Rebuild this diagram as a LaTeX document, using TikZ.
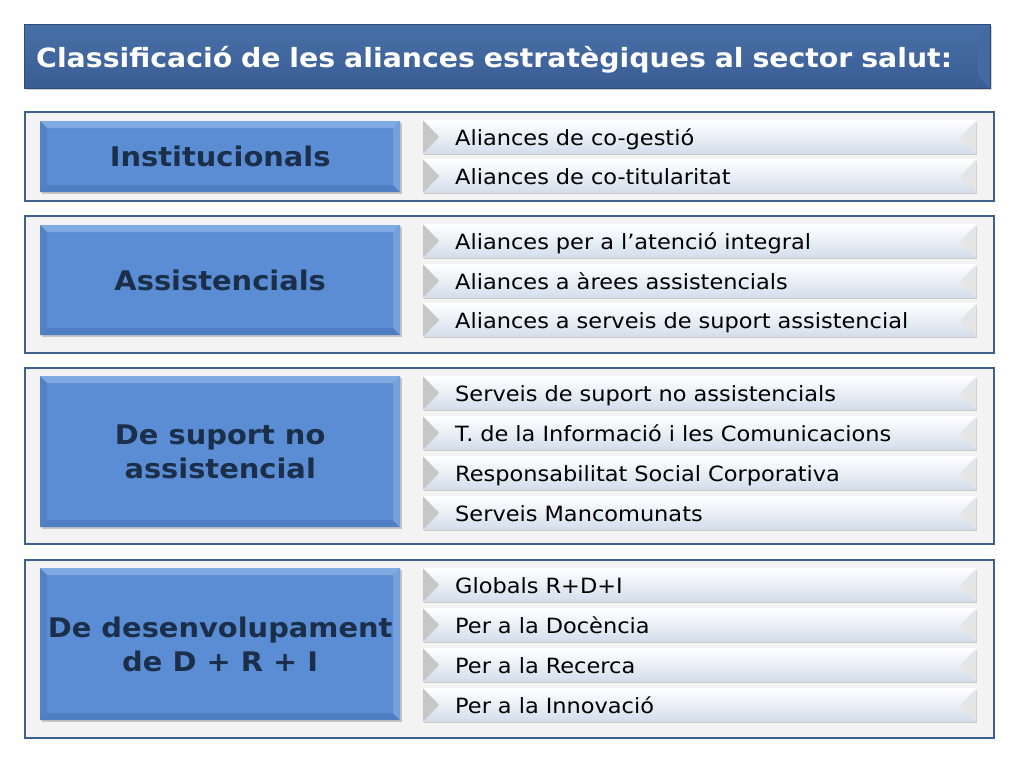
\documentclass[tikz,border=0pt]{standalone}
\usepackage{fontspec}
\setmainfont[FakeStretch=1.07]{DejaVu Sans}
\usetikzlibrary{shadows}
\definecolor{titlebg}{HTML}{3A5D93}
\definecolor{titletop}{HTML}{4870A8}
\definecolor{frameline}{HTML}{3F5F8C}
\definecolor{framebg}{HTML}{F3F3F3}
\definecolor{catblue}{HTML}{5A8DD3}
\definecolor{catlight}{HTML}{7FAAE2}
\definecolor{catdark}{HTML}{4F7FC2}
\definecolor{cattext}{HTML}{1B2E4A}
\definecolor{itembot}{HTML}{D3DDEB}
\tikzset{%
	titlebar/.style = {draw=titlebg!80!black, top color=titletop, bottom color=titlebg,
		minimum width=966pt, minimum height=64pt, anchor=north west, inner xsep=12pt,
		text width=942pt, text height=24pt, text depth=2pt, align=left, text=white,
		font=\bfseries\fontsize{26.5}{30}\selectfont,
		drop shadow={opacity=0.35, shadow xshift=2pt, shadow yshift=-2pt},
		path picture={
			\fill[titletop!70!titlebg] (path picture bounding box.north east)
				-- ([xshift=-12pt,yshift=-12pt]path picture bounding box.north east)
				-- ([xshift=-12pt,yshift=12pt]path picture bounding box.south east)
				-- (path picture bounding box.south east) -- cycle;
		}}, % Title
	frame/.style    = {draw=frameline, line width=1.6pt, fill=framebg, anchor=north west,
		minimum width=969pt}, % Group panel
	catbox/.style   = {fill=catblue, anchor=north west, minimum width=360pt,
		text=cattext, align=center, font=\bfseries\fontsize{27}{34}\selectfont,
		drop shadow={opacity=0.4, shadow xshift=2pt, shadow yshift=-2pt},
		path picture={
			\fill[catlight] (path picture bounding box.north west) -- (path picture bounding box.north east)
				-- ([xshift=-7pt,yshift=-7pt]path picture bounding box.north east)
				-- ([xshift=7pt,yshift=-7pt]path picture bounding box.north west) -- cycle;
			\fill[catdark] (path picture bounding box.south west) -- (path picture bounding box.south east)
				-- ([xshift=-7pt,yshift=7pt]path picture bounding box.south east)
				-- ([xshift=7pt,yshift=7pt]path picture bounding box.south west) -- cycle;
			\fill[catblue!92!black] (path picture bounding box.north west) -- ([xshift=7pt,yshift=-7pt]path picture bounding box.north west)
				-- ([xshift=7pt,yshift=7pt]path picture bounding box.south west) -- (path picture bounding box.south west) -- cycle;
			\fill[catlight!70!catblue] (path picture bounding box.north east) -- ([xshift=-7pt,yshift=-7pt]path picture bounding box.north east)
				-- ([xshift=-7pt,yshift=7pt]path picture bounding box.south east) -- (path picture bounding box.south east) -- cycle;
		}}, % Category
	item/.style     = {top color=white, bottom color=itembot, anchor=west,
		minimum height=33pt, inner xsep=32pt, inner ysep=0pt, text width=489pt,
		text height=18pt, text depth=2pt, align=left,
		font=\fontsize{21}{23}\selectfont,
		drop shadow={opacity=0.35, shadow xshift=1pt, shadow yshift=-1.5pt},
		path picture={
			\fill[black!22] (path picture bounding box.north west) -- ([xshift=16pt]path picture bounding box.west)
				-- (path picture bounding box.south west) -- cycle;
			\fill[black!10] (path picture bounding box.north east) -- ([xshift=-16pt]path picture bounding box.east)
				-- (path picture bounding box.south east) -- cycle;
		}} % Item
}

\begin{document}
\begin{tikzpicture}[x=1pt,y=-1pt]
	\useasboundingbox[fill=white] (0,0) rectangle (1024,768);

	\node[titlebar] (title) at (24,24) {Classificació de les aliances estratègiques al sector salut:};

	% Institucionals
	\node[frame, minimum height=89pt] (frameA) at (24,111) {};
	\node[catbox, minimum height=71pt] (inst) at (40,121) {Institucionals};
	\node[item] (inst1) at (423,137) {Aliances de co-gestió};
	\node[item] (inst2) at (423,176) {Aliances de co-titularitat};

	% Assistencials
	\node[frame, minimum height=137pt] (frameB) at (24,215) {};
	\node[catbox, minimum height=110pt] (assist) at (40,225) {Assistencials};
	\node[item] (assist1) at (423,241) {Aliances per a l’atenció integral};
	\node[item] (assist2) at (423,281) {Aliances a àrees assistencials};
	\node[item] (assist3) at (423,320) {Aliances a serveis de suport assistencial};

	% De suport no assistencial
	\node[frame, minimum height=176pt] (frameC) at (24,367) {};
	\node[catbox, minimum height=151pt] (suport) at (40,376) {De suport no\\assistencial};
	\node[item] (suport1) at (423,393) {Serveis de suport no assistencials};
	\node[item] (suport2) at (423,433) {T. de la Informació i les Comunicacions};
	\node[item] (suport3) at (423,473) {Responsabilitat Social Corporativa};
	\node[item] (suport4) at (423,513) {Serveis Mancomunats};

	% De desenvolupament de D + R + I
	\node[frame, minimum height=178pt] (frameD) at (24,559) {};
	\node[catbox, minimum height=152pt] (desenv) at (40,568) {De desenvolupament\\de D + R + I};
	\node[item] (desenv1) at (423,585) {Globals R+D+I};
	\node[item] (desenv2) at (423,625) {Per a la Docència};
	\node[item] (desenv3) at (423,665) {Per a la Recerca};
	\node[item] (desenv4) at (423,705) {Per a la Innovació};
\end{tikzpicture}
\end{document}
